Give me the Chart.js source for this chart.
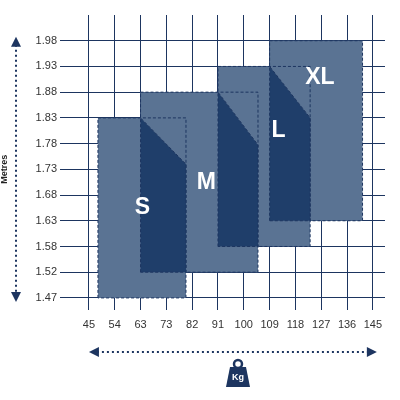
<!DOCTYPE html>
<html>
<head>
<meta charset="utf-8">
<script src="https://cdn.jsdelivr.net/npm/chart.js@4"></script>
<style>
  html, body { margin: 0; padding: 0; background: #fff; }
  #wrap { width: 400px; height: 400px; }
</style>
</head>
<body>
<div id="wrap"><canvas id="sizeChart"></canvas></div>
<script>
// tick labels (evenly spaced positions 0..n)
const kgLabels = ['45', '54', '63', '73', '82', '91', '100', '109', '118', '127', '136', '145'];
const metreLabels = ['1.47', '1.52', '1.58', '1.63', '1.68', '1.73', '1.78', '1.83', '1.88', '1.93', '1.98'];

// size zones, in tick-index units [x, y]
const sizeNames = ['S', 'M', 'L', 'XL'];
const lightZones = [
    [[0.35, 0], [0.35, 7], [3.76, 7], [3.76, 0]],
    [[2, 1], [2, 8], [6.55, 8], [6.55, 1]],
    [[5, 2], [5, 9], [8.57, 9], [8.57, 2]],
    [[7, 3], [7, 10], [10.6, 10], [10.6, 3]]
];
const darkZones = [
    [[2, 1], [2, 7], [3.76, 5.2], [3.76, 1]],
    [[5, 2], [5, 8], [6.55, 5.95], [6.55, 2]],
    [[7, 3], [7, 9], [8.57, 7], [8.57, 3]]
];
const labelPos = [[2.07, 3.5], [4.55, 4.5], [7.35, 6.5], [8.95, 8.55]];

const lightColor = '#5a7393';
const darkColor = '#1f3e6a';
const lineColor = '#1d3560';

function zoneDataset(pts, color, order) {
    const closed = pts.concat([pts[0]]).map(p => ({ x: p[0], y: p[1] }));
    return {
        data: closed,
        backgroundColor: color,
        borderColor: lineColor,
        borderWidth: 1,
        borderDash: [3, 2],
        fill: 'shape',
        pointRadius: 0,
        tension: 0,
        order: order
    };
}

const datasets = [];
lightZones.forEach(z => datasets.push(zoneDataset(z, lightColor, 2)));
darkZones.forEach(z => datasets.push(zoneDataset(z, darkColor, 1)));

// letters and axis decorations
const decorPlugin = {
    id: 'decor',
    afterDraw(chart) {
        const { ctx, scales: { x, y } } = chart;
        ctx.save();
        ctx.fillStyle = '#fff';
        ctx.font = 'bold 23px "Liberation Sans", Arial, sans-serif';
        ctx.textAlign = 'center';
        ctx.textBaseline = 'middle';
        sizeNames.forEach((name, i) => {
            ctx.fillText(name, x.getPixelForValue(labelPos[i][0]), y.getPixelForValue(labelPos[i][1]));
        });

        ctx.strokeStyle = lineColor;
        ctx.fillStyle = lineColor;
        ctx.lineWidth = 2;
        ctx.setLineDash([2, 3]);
        // vertical arrow
        const ax = 16, top = y.getPixelForValue(10) - 2, bot = y.getPixelForValue(0) + 2;
        ctx.beginPath(); ctx.moveTo(ax, top + 6); ctx.lineTo(ax, bot - 6); ctx.stroke();
        // horizontal arrow
        const ay = 352, l = x.getPixelForValue(0) + 2, r = x.getPixelForValue(11) + 2;
        ctx.beginPath(); ctx.moveTo(l + 6, ay); ctx.lineTo(r - 6, ay); ctx.stroke();
        ctx.setLineDash([]);
        const tri = (a, b, c) => { ctx.beginPath(); ctx.moveTo(...a); ctx.lineTo(...b); ctx.lineTo(...c); ctx.closePath(); ctx.fill(); };
        tri([ax, top - 2], [ax - 5, top + 8], [ax + 5, top + 8]);
        tri([ax, bot + 2], [ax - 5, bot - 8], [ax + 5, bot - 8]);
        tri([l - 2, ay], [l + 8, ay - 5], [l + 8, ay + 5]);
        tri([r + 2, ay], [r - 8, ay - 5], [r - 8, ay + 5]);
        // "Metres" title
        ctx.save();
        ctx.translate(5, (top + bot) / 2);
        ctx.rotate(-Math.PI / 2);
        ctx.fillStyle = '#222';
        ctx.font = 'bold 9px "Liberation Sans", Arial, sans-serif';
        ctx.fillText('Metres', 0, 0);
        ctx.restore();
        // weight icon
        const cx = 238;
        ctx.beginPath();
        ctx.arc(cx, 364, 4, 0, Math.PI * 2);
        ctx.lineWidth = 2.5;
        ctx.stroke();
        ctx.beginPath();
        ctx.moveTo(cx - 8, 367); ctx.lineTo(cx + 8, 367);
        ctx.lineTo(cx + 12, 387); ctx.lineTo(cx - 12, 387);
        ctx.closePath(); ctx.fill();
        ctx.fillStyle = '#fff';
        ctx.font = 'bold 9px "Liberation Sans", Arial, sans-serif';
        ctx.fillText('Kg', cx, 378);
        ctx.restore();
    }
};

const indexTicks = n => scale => { scale.ticks = Array.from({ length: n }, (_, i) => ({ value: i })); };

new Chart(document.getElementById('sizeChart'), {
    type: 'line',
    data: { datasets },
    options: {
        responsive: true,
        maintainAspectRatio: false,
        animation: false,
        layout: { padding: { top: 15, right: 15, left: 0, bottom: 0 } },
        plugins: { legend: { display: false }, tooltip: { enabled: false } },
        scales: {
            x: {
                type: 'linear',
                z: 1,
                min: -1.12, max: 11.47,
                afterBuildTicks: indexTicks(kgLabels.length),
                afterFit: s => { s.height = 90; },
                ticks: { callback: v => kgLabels[v], color: '#333', font: { size: 11, family: '"Liberation Sans", Arial, sans-serif' }, padding: 8, maxRotation: 0 },
                grid: { color: lineColor, lineWidth: 1, drawTicks: false },
                border: { display: false }
            },
            y: {
                type: 'linear',
                z: 1,
                min: -0.47, max: 11,
                afterBuildTicks: indexTicks(metreLabels.length),
                afterFit: s => { s.width = 60; },
                ticks: { callback: v => metreLabels[v], color: '#333', font: { size: 11, family: '"Liberation Sans", Arial, sans-serif' }, padding: 3 },
                grid: { color: lineColor, lineWidth: 1, drawTicks: false },
                border: { display: false }
            }
        }
    },
    plugins: [decorPlugin]
});
</script>
</body>
</html>
